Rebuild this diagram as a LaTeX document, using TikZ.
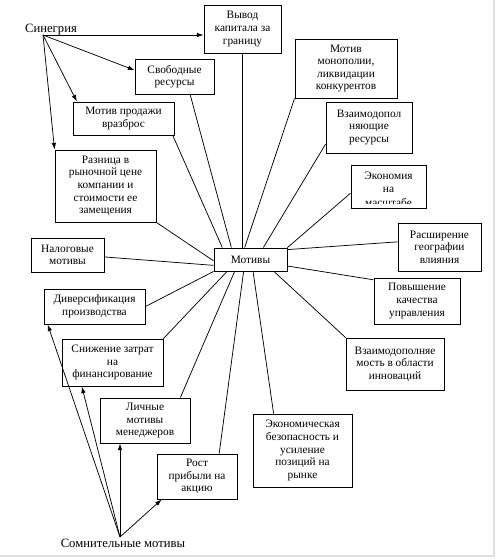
\documentclass[tikz,border=0pt]{standalone}
\usepackage{fontspec}
\setmainfont{Liberation Serif}
\usetikzlibrary{arrows.meta}
\tikzset{box/.style={draw, line width=0.7pt, inner sep=1pt, align=center},
         sz/.style 2 args={minimum width=#1*0.75pt, minimum height=#2*0.75pt},
         spoke/.style={draw, line width=0.55pt},
         arr/.style={->, line width=0.55pt}}

\begin{document}
\begin{tikzpicture}[x=0.75pt,y=-0.75pt,>={Latex[length=5pt,width=3.4pt]},font=\fontsize{8.5}{9.4}\selectfont]
        \useasboundingbox (0,0) rectangle (497,560);
        \draw[gray!25, line width=0.8pt] (0,556) -- (494,556) -- (494,0);
        % centre
        \node[box, sz={73}{23}] (mot) at (250.5,259.5) {Мотивы};
        % boxes around it
        \node[box, sz={77}{48}] (vyvod) at (242.5,29) {Вывод\\капитала за\\границу};
        \node[box, sz={102}{59}] (monop) at (346,68.5) {Мотив\\монополии,\\ликвидации\\конкурентов};
        \node[box, sz={79}{35}] (svob) at (174.5,76.5) {Свободные\\ресурсы};
        \node[box, sz={101}{33}] (prod) at (123.5,118.5) {Мотив продажи\\вразброс};
        \node[box, sz={86}{51}] (vzres) at (369,127.5) {Взаимодопол\\няющие\\ресурсы};
        \node[box, sz={101}{72}] (razn) at (105.5,186) {Разница в\\рыночной цене\\компании и\\стоимости ее\\замещения};
        \node[box, sz={75}{43}] (econ) at (388.5,186.5) {};
        \begin{scope}
            \clip ([yshift=3.6pt]econ.south west) rectangle (econ.north east);
            \node[align=center, yshift=-1.9pt, font=\fontsize{8.5}{10.2}\selectfont] (econtxt) at (econ) {Экономия\\на\\масштабе};
        \end{scope}
        \node[box, sz={83}{48}] (rassh) at (439.5,247) {Расширение\\географии\\влияния};
        \node[box, sz={73}{34}] (nalog) at (67.5,255) {Налоговые\\мотивы};
        \node[box, sz={86}{46}] (povysh) at (417,301) {Повышение\\качества\\управления};
        \node[box, sz={101}{35}] (divers) at (94.5,306.5) {Диверсификация\\производства};
        \node[box, sz={101}{47}] (snizh) at (112.5,362.5) {Снижение затрат\\на\\финансирование};
        \node[box, sz={98}{52}] (vzinn) at (395,364) {Взаимодополняе\\мость в области\\инноваций};
        \node[box, sz={90}{45}] (lich) at (145,420.5) {Личные\\мотивы\\менеджеров};
        \node[box, sz={99}{73}] (econsec) at (302.5,450.5) {Экономическая\\безопасность и\\усиление\\позиций на\\рынке};
        \node[box, sz={80}{45}] (rost) at (197,476.5) {Рост\\прибыли на\\акцию};
        % groups
        \node[font=\fontsize{9.5}{11}\selectfont, inner sep=0] (syntxt) at (51,30) {Синегрия};
        \node[font=\fontsize{9.5}{11}\selectfont, inner sep=0] (somtxt) at (123,543) {Сомнительные мотивы};
        \coordinate (syn) at (43,35);
        \coordinate (som) at (120,537);
        % spokes
        \draw[spoke] (vyvod.south) -- (vyvod.south |- mot.north);
        \draw[spoke] (svob.311) -- (mot.148);
        \draw[spoke] (prod.341) -- (mot.157);
        \draw[spoke] (razn.south east) -- (mot.182);
        \draw[spoke] (nalog.357) -- (mot.189);
        \draw[spoke] (divers.east) -- (mot.south west);
        \draw[spoke] (snizh.north east) -- (mot.207);
        \draw[spoke] (lich.33) -- (mot.217);
        \draw[spoke] (rost.46) -- (mot.240);
        \draw[spoke] (econsec.128) -- (mot.282);
        \draw[spoke] (vzinn.north west) -- (mot.333);
        \draw[spoke] (povysh.154) -- (mot.350);
        \draw[spoke] (rassh.173) -- (mot.15);
        \draw[spoke] (econ.190) -- (mot.north east);
        \draw[spoke] (vzres.201) -- (mot.43);
        \draw[spoke] (monop.south west) -- (mot.116);
        % arrows
        \draw[arr] (syn) -- (syn -| vyvod.west);
        \draw[arr] (syn) -- (svob.171);
        \draw[arr] (syn) -- (prod.160);
        \draw[arr] (syn) -- (razn.north west);
        \draw[arr] (som) -- (divers.201);
        \draw[arr] (som) -- (snizh.218);
        \draw[arr] (som) -- (lich.south -| som);
        \draw[arr] (som) -- (rost.213);
    \end{tikzpicture}
\end{document}
